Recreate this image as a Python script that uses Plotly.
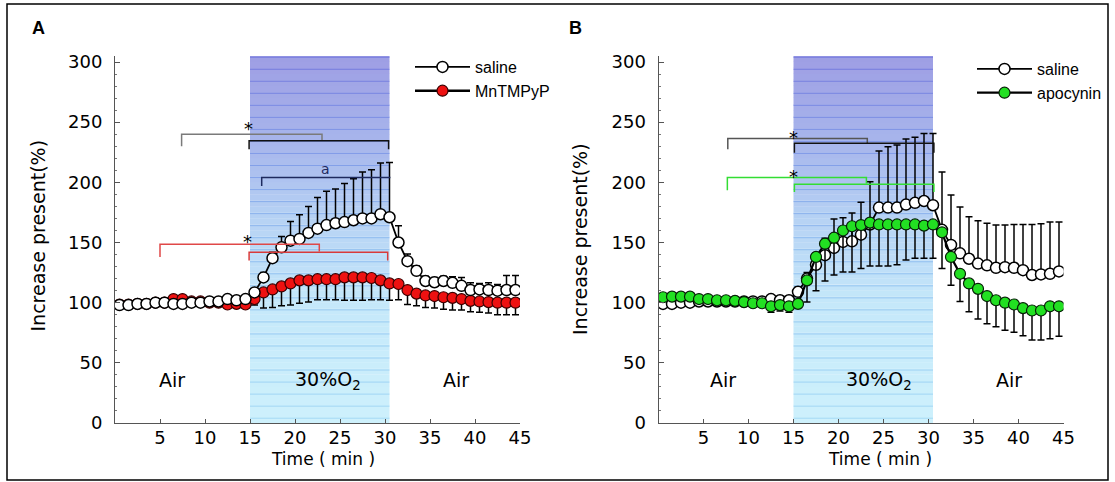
import plotly.graph_objects as go

W, H = 1115, 482

# ---------------- data ----------------
time_min = [0.5, 1.5, 2.5, 3.5, 4.5, 5.5, 6.5, 7.5, 8.5, 9.5, 10.5, 11.5, 12.5, 13.5, 14.5,
            15.5, 16.5, 17.5, 18.5, 19.5, 20.5, 21.5, 22.5, 23.5, 24.5, 25.5, 26.5, 27.5, 28.5, 29.5,
            30.5, 31.5, 32.5, 33.5, 34.5, 35.5, 36.5, 37.5, 38.5, 39.5, 40.5, 41.5, 42.5, 43.5, 44.5]

# Panel A
saline_A = [98, 98, 99, 99, 100, 100, 99, 99, 100, 100, 101, 101, 103, 102, 103,
            108.5, 121, 137, 146, 151.5, 153, 158, 161.5, 164.5, 166, 167, 168.5, 170, 170, 173.5,
            171, 150, 134.5, 126.5, 118, 117, 118, 116.5, 114, 110.5, 111, 110.5, 110, 110.5, 110.5]
saline_A_err = [1, 1, 1, 1, 1, 1, 1, 1, 1, 1, 1, 1, 2, 2, 2,
                3, 4, 5, 9, 16, 20, 22, 26, 28, 28.5, 32, 34.5, 38.5, 40.5, 42.5,
                45.5, 14, 6, 4, 4, 4, 4, 5, 7, 6, 5, 6, 5, 12, 12]
mn_A = [98.5, 98.5, 99, 99, 100, 100, 103, 103, 101, 101, 100, 100, 98.5, 99, 98.5,
        103, 108.5, 111, 113.5, 116, 118.5, 118.5, 119.5, 119.5, 119.5, 121, 121, 121, 120.5, 118.5,
        116, 115.5, 110.5, 107.5, 106, 105.5, 104.5, 104, 103, 101.5, 101, 100.5, 100, 100, 100]
mn_A_err = [1, 1, 1, 1, 1, 1, 1, 1, 1, 1, 1, 1, 2, 2, 2,
            5, 13, 15, 16, 18, 19, 18, 17, 17, 17, 19, 19, 19, 18, 16,
            14, 13, 12, 10, 10, 10, 10, 10, 9, 9, 9, 9, 10, 10, 10]

# Panel B
saline_B = [99, 99, 100, 100, 101, 101, 101, 101, 101, 101, 101, 101, 103, 102, 102,
            109, 120, 131.5, 139.5, 145.5, 150.5, 151, 156.5, 165, 179, 179, 179, 181.5, 183, 184.5,
            181, 160.5, 148, 141, 136.5, 132.5, 131, 129, 129.5, 129, 127, 123, 123.5, 124, 126]
saline_B_err = [1, 1, 1, 1, 1, 1, 1, 1, 1, 1, 1, 1, 2, 2, 2,
                4, 5, 10, 14, 24, 20, 23.5, 27, 35.5, 47, 50.5, 52, 54.5, 54.5, 56,
                59.5, 48, 41.5, 38.5, 35, 35.5, 35, 35.5, 35, 36, 38, 42, 42, 43, 41]
apo_B = [104.5, 105, 105, 105, 103, 103, 102, 102, 101.5, 100.5, 99.5, 99.5, 97, 98, 97,
         99, 118.5, 138, 149, 154, 160, 163.5, 164.5, 166.5, 165, 165, 165, 165, 165, 164,
         165, 158.5, 138, 124, 116, 111.5, 105.5, 102, 100, 98.5, 95.5, 93.5, 93.5, 97, 97]
apo_B_err = [2, 2, 2, 2, 2, 2, 2, 2, 2, 2, 3, 3, 5, 5, 5,
             3, 18, 28, 31, 31, 34.5, 38, 36, 36, 34.5, 34.5, 33.5, 29.5, 28, 27,
             28, 30, 23.5, 23, 23.5, 25, 23, 22, 23, 23, 23, 24.5, 24.5, 27, 25]
no_err = [0] * len(time_min)

x_ticks = [5, 10, 15, 20, 25, 30, 35, 40, 45]
y_ticks = [0, 50, 100, 150, 200, 250, 300]
o2_window = [15, 30.5]

# significance brackets (time, value paths)
brackets_A = [
    ([7.4, 7.4, 23.0, 23.0], [230, 240, 240, 235], '#7a7a7a'),
    ([14.9, 14.9, 30.4, 30.4], [227.5, 234.5, 234.5, 227.5], '#111111'),
    ([16.3, 16.3, 30.6], [197, 204, 204], '#1e2a5e'),
    ([5.0, 5.0, 22.7, 22.7], [138, 148.5, 148.5, 142.5], '#e04848'),
    ([14.9, 14.9, 30.3, 30.3], [135, 142, 142, 135], '#d83a3a'),
]
brackets_B = [
    ([7.7, 7.7, 23.2, 23.2], [227.5, 236.5, 236.5, 232.5], '#555555'),
    ([15.1, 15.1, 30.6, 30.6], [224.5, 232.5, 232.5, 224.5], '#111111'),
    ([7.65, 7.65, 23.1, 23.1], [193.5, 204, 204, 199], '#33dd33'),
    ([15.1, 15.1, 30.6, 30.6], [192, 198.5, 198.5, 192], '#33dd33'),
]
stars_A = [(14.8, 247.5), (14.7, 153)]
stars_B = [(15.05, 239.5), (15.05, 207)]
letter_A = (23.4, 210.8, 'a')
phase_labels = ['Air', '30%O<sub>2</sub>', 'Air']
phase_x_A = [6.3, 23.7, 37.9]
phase_x_B = [7.2, 24.5, 38.9]
phase_y = 35.7

# ---------------- figure ----------------
FONT = 'DejaVu Sans'


def px(x):
    return x / W


def py(y):
    return 1 - y / H


fig = go.Figure()

err_style = dict(type='data', symmetric=False, color='black', thickness=1.5, width=3.5)

# Panel A traces
fig.add_trace(go.Scatter(
    x=time_min, y=mn_A, name='MnTMPyP', mode='lines+markers', legend='legend', legendrank=2,
    line=dict(color='black', width=2.5),
    marker=dict(color='#ee1111', size=11, line=dict(color='#3a0000', width=1.2)),
    error_y=dict(array=no_err, arrayminus=mn_A_err, **err_style),
    xaxis='x', yaxis='y'))
fig.add_trace(go.Scatter(
    x=time_min, y=saline_A, name='saline', mode='lines+markers', legend='legend', legendrank=1,
    line=dict(color='black', width=1.8),
    marker=dict(color='white', size=11, line=dict(color='black', width=1.5)),
    error_y=dict(array=saline_A_err, arrayminus=no_err, **err_style),
    xaxis='x', yaxis='y'))

# Panel B traces
fig.add_trace(go.Scatter(
    x=time_min, y=saline_B, name='saline', mode='lines+markers', legend='legend2', legendrank=1,
    line=dict(color='black', width=1.8),
    marker=dict(color='white', size=11, line=dict(color='black', width=1.5)),
    error_y=dict(array=saline_B_err, arrayminus=no_err, **err_style),
    xaxis='x2', yaxis='y2'))
fig.add_trace(go.Scatter(
    x=time_min, y=apo_B, name='apocynin', mode='lines+markers', legend='legend2', legendrank=2,
    line=dict(color='black', width=2.2),
    marker=dict(color='#22e022', size=11, line=dict(color='#062006', width=1.2)),
    error_y=dict(array=no_err, arrayminus=apo_B_err, **err_style),
    xaxis='x2', yaxis='y2'))

# brackets
for (bx, by, col) in brackets_A:
    fig.add_trace(go.Scatter(x=bx, y=by, mode='lines', line=dict(color=col, width=1.5),
                             showlegend=False, hoverinfo='skip', xaxis='x', yaxis='y'))
for (bx, by, col) in brackets_B:
    fig.add_trace(go.Scatter(x=bx, y=by, mode='lines', line=dict(color=col, width=1.5),
                             showlegend=False, hoverinfo='skip', xaxis='x2', yaxis='y2'))

# ---- O2 shading (gradient bands + horizontal lines) ----
stops = [(0, (206, 241, 252)), (100, (197, 232, 250)), (170, (182, 210, 244)),
         (230, (168, 183, 236)), (305, (158, 158, 228))]
line_stops = [(0, (150, 210, 242)), (150, (130, 180, 238)), (305, (100, 105, 220))]


def interp(v, st):
    for (a, ca), (b, cb) in zip(st[:-1], st[1:]):
        if a <= v <= b:
            f = (v - a) / (b - a)
            return tuple(int(round(ca[k] + f * (cb[k] - ca[k]))) for k in range(3))
    return st[-1][1]


shapes = []
for xr, yr in (('x', 'y'), ('x2', 'y2')):
    v = 0
    while v < 305:
        c = interp(v + 2.5, stops)
        shapes.append(dict(type='rect', xref=xr, yref=yr, x0=o2_window[0], x1=o2_window[1],
                           y0=v, y1=min(v + 5.2, 305), fillcolor='rgb(%d,%d,%d)' % c,
                           line=dict(width=0), layer='below'))
        v += 5
    v = 4
    while v < 305:
        c = interp(v, line_stops)
        shapes.append(dict(type='line', xref=xr, yref=yr, x0=o2_window[0], x1=o2_window[1],
                           y0=v, y1=v, line=dict(color='rgba(%d,%d,%d,0.75)' % c, width=1),
                           layer='below'))
        v += 10

# outer frame
shapes.append(dict(type='rect', xref='paper', yref='paper', x0=px(7), x1=px(1108),
                   y0=py(480), y1=py(4), line=dict(color='black', width=1.5)))

annotations = []
for (sx, sy) in stars_A:
    annotations.append(dict(x=sx, y=sy, xref='x', yref='y', text='*', showarrow=False,
                            xanchor='center', yanchor='middle',
                            font=dict(family=FONT, size=18, color='black'), yshift=-3))
for (sx, sy) in stars_B:
    annotations.append(dict(x=sx, y=sy, xref='x2', yref='y2', text='*', showarrow=False,
                            xanchor='center', yanchor='middle',
                            font=dict(family=FONT, size=18, color='black'), yshift=-3))
annotations.append(dict(x=letter_A[0], y=letter_A[1], xref='x', yref='y', text=letter_A[2],
                        xanchor='center', yanchor='middle',
                        showarrow=False, font=dict(family=FONT, size=14, color='#1e2a5e')))
for lbl, lx in zip(phase_labels, phase_x_A):
    annotations.append(dict(x=lx, y=phase_y, xref='x', yref='y', text=lbl, showarrow=False,
                            xanchor='center', yanchor='middle',
                            font=dict(family=FONT, size=19, color='black')))
for lbl, lx in zip(phase_labels, phase_x_B):
    annotations.append(dict(x=lx, y=phase_y, xref='x2', yref='y2', text=lbl, showarrow=False,
                            xanchor='center', yanchor='middle',
                            font=dict(family=FONT, size=19, color='black')))

# panel letters and axis titles
paper_txt = [
    ('<b>A</b>', 38.5, 28, 0, 'Liberation Sans', 18),
    ('<b>B</b>', 575, 28, 0, 'Liberation Sans', 18),
    ('Increase present(%)', 37.5, 236, -90, FONT, 19),
    ('Increase present(%)', 580, 239, -90, FONT, 19),
    ('Time ( min )', 323, 459, 0, FONT, 17),
    ('Time ( min )', 880, 459, 0, FONT, 17),
]
for (txt, tx, ty, ang, fam, sz) in paper_txt:
    annotations.append(dict(x=px(tx), y=py(ty), xref='paper', yref='paper', text=txt,
                            textangle=ang, showarrow=False, xanchor='center', yanchor='middle',
                            font=dict(family=fam, size=sz, color='black')))

ydom = [py(423), py(56)]
common_x = dict(range=[0, 45], tickvals=x_ticks, ticks='inside', ticklen=4, tickcolor='#555',
                showline=True, linecolor='#555', linewidth=1, showgrid=False, zeroline=False,
                automargin=False,
                tickfont=dict(family=FONT, size=18, color='black'), ticklabelstandoff=-2)
common_y = dict(range=[0, 305], tickvals=y_ticks, ticks='inside', ticklen=5, tickcolor='#555',
                showline=True, linecolor='#555', linewidth=1, showgrid=False, zeroline=False,
                automargin=False,
                tickfont=dict(family=FONT, size=18, color='black'), ticklabelstandoff=8,
                minor=dict(dtick=10, ticks='inside', ticklen=2, tickcolor='#777'), domain=ydom)

fig.update_layout(
    width=W, height=H, autosize=False, margin=dict(l=0, r=0, t=0, b=0, pad=0),
    paper_bgcolor='white', plot_bgcolor='rgba(0,0,0,0)',
    xaxis=dict(domain=[px(115), px(520)], anchor='y', **common_x),
    yaxis=dict(anchor='x', **common_y),
    xaxis2=dict(domain=[px(658.5), px(1063.5)], anchor='y2', **common_x),
    yaxis2=dict(anchor='x2', **common_y),
    legend=dict(x=px(410), y=py(50), xanchor='left', yanchor='top', itemwidth=55,
                font=dict(family='Liberation Sans', size=16, color='black'),
                bgcolor='rgba(0,0,0,0)', tracegroupgap=0),
    legend2=dict(x=px(972), y=py(52), xanchor='left', yanchor='top', itemwidth=55,
                 font=dict(family='Liberation Sans', size=16, color='black'),
                 bgcolor='rgba(0,0,0,0)', tracegroupgap=0),
    shapes=shapes, annotations=annotations, showlegend=True,
)

fig.write_html('out.html', config={'responsive': False, 'displayModeBar': False},
               post_script="document.body.style.margin='0px';document.body.style.padding='0px';")
